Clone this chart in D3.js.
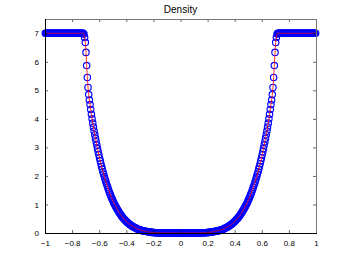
<!DOCTYPE html>
<html><head><meta charset="utf-8">
<script src="https://cdn.jsdelivr.net/npm/d3@7"></script>
<style>body{margin:0;background:#fff} svg text{font-family:"Liberation Sans",Arial,Helvetica,sans-serif}</style>
</head><body><svg id="c" width="349" height="263"></svg>
<script>
const title = "Density";
const xStart = -0.9975, xStep = 0.005;
const density = [
7,7,7,7,7,7,7,7,7,7,7,7,7,7,7,7,7,7,7,7,
7,7,7,7,7,7,7,7,7,7,7,7,7,7,7,7,7,7,7,7,
7,7,7,7,7,7,7,7,7,7,7,7,7,7,7,7,7,
6.97,6.85,6.68,6.33,5.87,5.45,5.10,4.85,4.66,4.50,
4.33,4.16,4.00,3.85,3.71,3.57,3.44,3.32,3.20,3.08,
2.96,2.85,2.74,2.63,2.53,2.43,2.33,2.24,2.15,2.07,
1.98,1.90,1.82,1.74,1.67,1.60,1.53,1.46,1.40,1.34,
1.28,1.22,1.17,1.11,1.06,1.01,0.97,0.92,0.88,0.84,
0.80,0.76,0.72,0.68,0.65,0.61,0.58,0.55,0.52,0.49,
0.47,0.44,0.42,0.39,0.37,0.35,0.33,0.31,0.29,0.28,
0.26,0.24,0.23,0.21,0.20,0.19,0.18,0.16,0.15,0.14,
0.13,0.12,0.11,0.11,0.10,0.09,0.08,0.08,0.07,0.07,
0.06,0.06,0.05,0.05,0.04,0.04,0.04,0.03,0.03,0.03,
0.02,0.02,0.02,0.02,0.02,0.01,0.01,0.01,0.01,0.01,
0.01,0.01,0.01,0.01,
0,0,0,0,0,0,0,0,0,0,0,0,0,0,0,0,0,0,0,0,0,0,0,0,0,0,0,0,0,
0,0,0,0,0,0,0,0,0,0,0,0,0,0,0,0,0,0,0,0,0,0,0,0,0,0,0,0,0,
0.01,0.01,0.01,0.01,0.01,0.01,0.01,0.01,0.01,
0.02,0.02,0.02,0.02,0.02,
0.03,0.03,0.03,0.04,0.04,0.04,0.05,0.05,0.06,0.06,
0.07,0.07,0.08,0.08,0.09,0.10,0.11,0.11,
0.12,0.13,0.14,0.15,0.16,0.18,0.19,0.20,0.21,0.23,
0.24,0.26,0.28,0.29,0.31,0.33,0.35,0.37,0.39,0.42,
0.44,0.47,0.49,0.52,0.55,0.58,0.61,0.65,0.68,0.72,
0.76,0.80,0.84,0.88,0.92,0.97,1.01,1.06,1.11,1.17,
1.22,1.28,1.34,1.40,1.46,1.53,1.60,1.67,1.74,1.82,
1.90,1.98,2.07,2.15,2.24,2.33,2.43,2.53,2.63,2.74,
2.85,2.96,3.08,3.20,3.32,3.44,3.57,3.71,3.85,4.00,
4.16,4.33,4.50,4.66,4.85,5.10,5.45,5.87,6.33,6.68,
6.85,6.97,
7,7,7,7,7,7,7,7,7,7,7,7,7,7,7,7,7,7,7,7,
7,7,7,7,7,7,7,7,7,7,7,7,7,7,7,7,7,7,7,7,
7,7,7,7,7,7,7,7,7,7,7,7,7,7,7,7,7
];
const xTicks = [-1,-0.8,-0.6,-0.4,-0.2,0,0.2,0.4,0.6,0.8,1];
const yTicks = [0,1,2,3,4,5,6,7];
const xDomain = [-1, 1];
const yDomain = [0, 7.5];

const svg = d3.select("#c");
const L = 45, R = 316, T = 19, B = 233;
const x = d3.scaleLinear().domain(xDomain).range([L, R]);
const y = d3.scaleLinear().domain(yDomain).range([B, T]);
const fmt = d3.format("~g");
const data = density.map((d, i) => ({x: xStart + i * xStep, y: d}));

// markers
svg.append("g").selectAll("circle").data(data).join("circle")
  .attr("cx", d => x(d.x)).attr("cy", d => y(d.y)).attr("r", 3.2)
  .attr("fill", "none").attr("stroke", "#0000ff").attr("stroke-width", 1.15);
// line
svg.append("path").datum(data)
  .attr("d", d3.line().x(d => x(d.x)).y(d => y(d.y)))
  .attr("fill", "none").attr("stroke", "#ff0000").attr("stroke-width", 0.8);

// axes
const ax = (g) => g.call(s => s.select(".domain").remove())
  .call(s => s.selectAll("line").attr("stroke", "#000").attr("stroke-width", 0.6))
  .call(s => s.selectAll("text").attr("fill", "#000").attr("font-size", 8));
svg.append("g").attr("transform", `translate(0,${B})`)
  .call(d3.axisBottom(x).tickValues(xTicks).tickFormat(fmt).tickSizeInner(-3).tickSizeOuter(0).tickPadding(7)).call(ax);
svg.append("g").attr("transform", `translate(0,${T})`)
  .call(d3.axisTop(x).tickValues(xTicks).tickFormat("").tickSizeInner(-3).tickSizeOuter(0)).call(ax);
svg.append("g").attr("transform", `translate(${L},0)`)
  .call(d3.axisLeft(y).tickValues(yTicks).tickFormat(fmt).tickSizeInner(-3).tickSizeOuter(0).tickPadding(6)).call(ax);
svg.append("g").attr("transform", `translate(${R},0)`)
  .call(d3.axisRight(y).tickValues(yTicks).tickFormat("").tickSizeInner(-3).tickSizeOuter(0)).call(ax);

// box
svg.append("line").attr("x1", L).attr("x2", R).attr("y1", T + 0.5).attr("y2", T + 0.5).attr("stroke", "#777").attr("stroke-width", 1);
svg.append("line").attr("x1", R + 0.5).attr("x2", R + 0.5).attr("y1", T).attr("y2", B).attr("stroke", "#777").attr("stroke-width", 1);
svg.append("line").attr("x1", L + 0.5).attr("x2", L + 0.5).attr("y1", T).attr("y2", B + 1).attr("stroke", "#000").attr("stroke-width", 1);
svg.append("line").attr("x1", L).attr("x2", R + 1).attr("y1", B + 0.5).attr("y2", B + 0.5).attr("stroke", "#000").attr("stroke-width", 1);

svg.append("text").attr("x", (L + R) / 2).attr("y", 13).attr("text-anchor", "middle")
  .attr("font-size", 10).attr("fill", "#000").text(title);
</script></body></html>
